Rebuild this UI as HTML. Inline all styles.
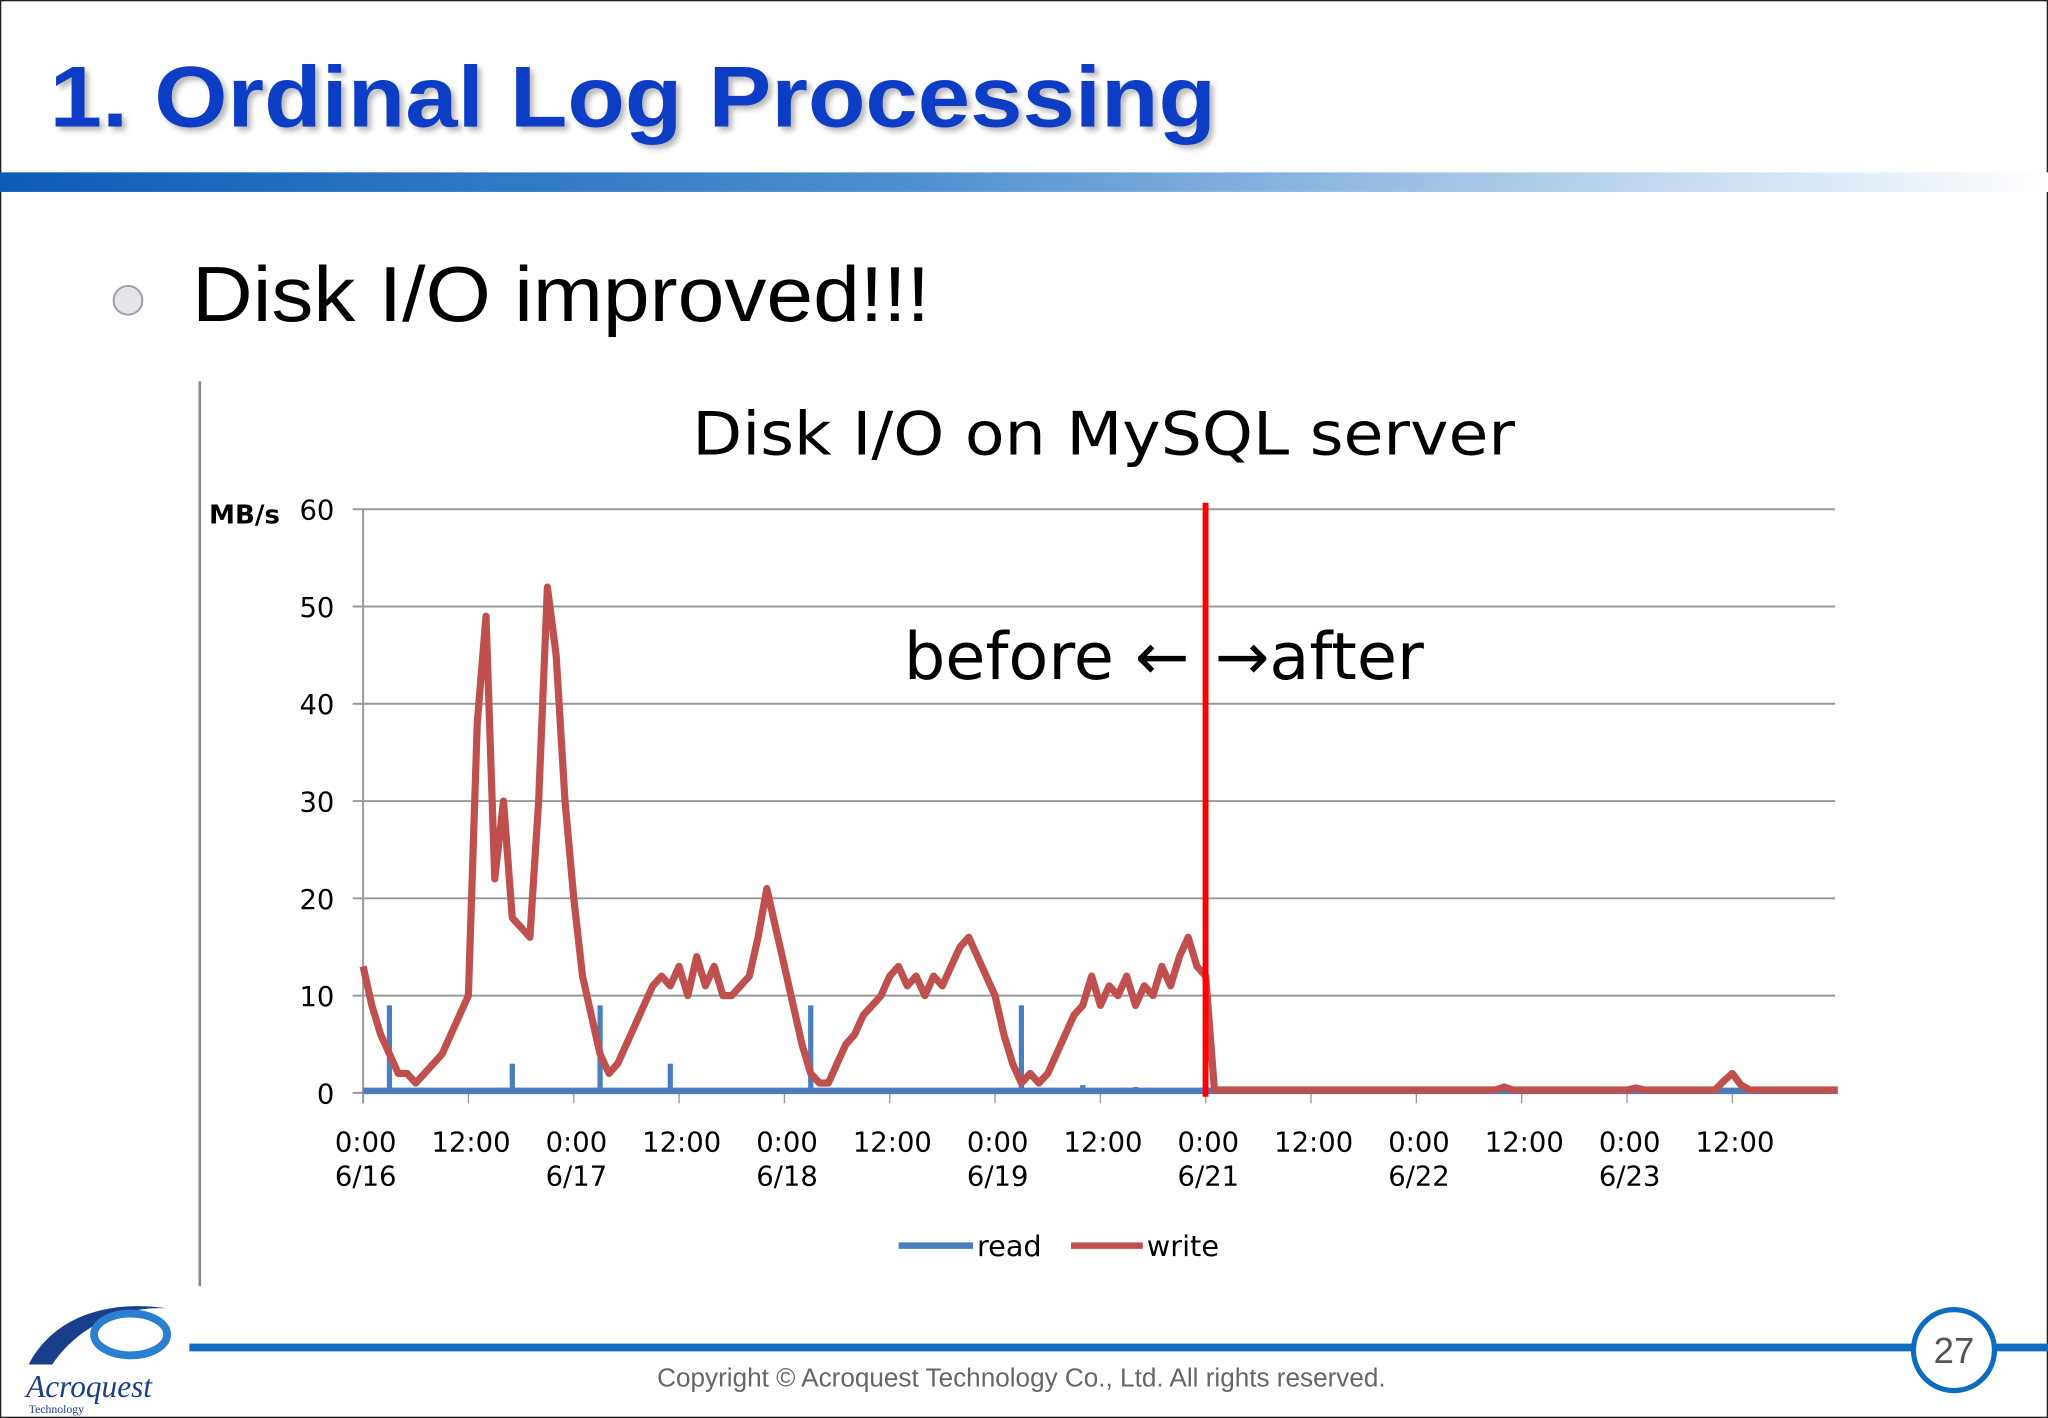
<!DOCTYPE html>
<html><head><meta charset="utf-8"><style>
html,body{margin:0;padding:0;background:#fff;}
svg{display:block;}
text{font-family:"DejaVu Sans","Liberation Sans",sans-serif;}
</style></head><body>
<svg width="2048" height="1418" viewBox="0 0 1568 1086" preserveAspectRatio="none" xmlns="http://www.w3.org/2000/svg">
<defs>
<linearGradient id="hdr" x1="0" x2="1" y1="0" y2="0">
<stop offset="0" stop-color="#0d5cb8"/><stop offset="0.45" stop-color="#4f90d0"/><stop offset="1" stop-color="#ffffff"/>
</linearGradient>
<filter id="sh" x="-5%" y="-5%" width="110%" height="120%"><feDropShadow dx="3" dy="3" stdDeviation="2" flood-color="#888" flood-opacity="0.6"/></filter>
</defs>
<rect x="0.5" y="0.5" width="1567" height="1085" fill="#fff" stroke="#222" stroke-width="1"/>
<text x="38" y="97" font-weight="bold" font-size="66" fill="#0a3ec4" filter="url(#sh)" textLength="893" lengthAdjust="spacingAndGlyphs" style="font-family:'Liberation Sans',sans-serif">1. Ordinal Log Processing</text>
<rect x="0" y="132" width="1568" height="15" fill="url(#hdr)"/>
<circle cx="98" cy="230" r="11" fill="#e4e6ec" stroke="#9aa0aa" stroke-width="1.5"/>
<text x="147" y="246" font-size="60" fill="#000" textLength="565" lengthAdjust="spacingAndGlyphs" style="font-family:'Liberation Sans',sans-serif">Disk I/O improved!!!</text>
<line x1="153" y1="292" x2="153" y2="985" stroke="#888" stroke-width="2"/>
<text x="530" y="348" font-size="46" fill="#000" textLength="630" lengthAdjust="spacingAndGlyphs">Disk I/O on MySQL server</text>
<text x="160" y="401" font-size="20" font-weight="bold" fill="#000">MB/s</text>
<g id="grid"></g>
<g id="xlabels"></g>
<g id="series"></g>
<line x1="923" y1="385" x2="923" y2="840" stroke="#ff0000" stroke-width="4.5"/>
<text x="692" y="520" font-size="50" fill="#000">before ←</text>
<text x="930" y="520" font-size="50" fill="#000">→after</text>
<g>
<line x1="688" y1="954" x2="745" y2="954" stroke="#4a7ebf" stroke-width="5"/>
<text x="748" y="962" font-size="22">read</text>
<line x1="820" y1="954" x2="875" y2="954" stroke="#c0504d" stroke-width="5"/>
<text x="878" y="962" font-size="22">write</text>
</g>
<g>
<path d="M22 1045 C40 1010 80 995 128 1002 C95 1000 60 1015 40 1045 Z" fill="#1a3f8a"/>
<ellipse cx="100" cy="1022" rx="28" ry="16" fill="none" stroke="#2a7fd0" stroke-width="6"/>
<text x="20" y="1070" font-size="24" font-style="italic" fill="#1a3f8a" style="font-family:'Liberation Serif',serif">Acroquest</text>
<text x="22" y="1082" font-size="9" fill="#1a3f8a" style="font-family:'Liberation Serif',serif">Technology</text>
</g>
<line x1="145" y1="1032" x2="1568" y2="1032" stroke="#0e6cc0" stroke-width="6"/>
<circle cx="1496" cy="1034" r="31" fill="#fff" stroke="#0e6cc0" stroke-width="4"/>
<text x="1496" y="1044" font-size="28" text-anchor="middle" fill="#555" style="font-family:'Liberation Sans',sans-serif">27</text>
<text x="782" y="1062" font-size="20" text-anchor="middle" fill="#666" style="font-family:'Liberation Sans',sans-serif">Copyright © Acroquest Technology Co., Ltd. All rights reserved.</text>
</svg>
<script>
const yTicks=[0,10,20,30,40,50,60];
const xTickLabels=[["0:00","6/16"],["12:00",""],["0:00","6/17"],["12:00",""],["0:00","6/18"],["12:00",""],["0:00","6/19"],["12:00",""],["0:00","6/21"],["12:00",""],["0:00","6/22"],["12:00",""],["0:00","6/23"],["12:00",""]];
const writeBefore=[13,9,6,4,2,2,1,2,3,4,6,8,10,38,49,22,30,18,17,16,30,52,45,30,20,12,8,4,2,3,5,7,9,11,12,11,13,10,14,11,13,10,10,11,12,16,21,17,13,9,5,2,1,1,3,5,6,8,9,10,12,13,11,12,10,12,11,13,15,16,14,12,10,6,3,1,2,1,2,4,6,8,9,12,9,11,10,12,9,11,10,13,11,14,16,13,12];
const writeAfterBase=0.3;
const writeAfterBumps=[[130,0.6],[145,0.5],[155,1.2],[156,2],[157,0.8]];
const readSpikes=[[3,9],[17,3],[27,9],[35,3],[51,9],[75,9],[82,0.8],[88,0.6]];
const readBase=0.2;
const NS="http://www.w3.org/2000/svg";
const X0=278,XPH=6.72,Y0=837,YPU=(837-390)/60;
const xs=h=>X0+h*XPH, ys=v=>Y0-v*YPU;
const grid=document.getElementById('grid');
yTicks.forEach(t=>{
 const l=document.createElementNS(NS,'line');
 
 
 l.setAttribute('x1',270);l.setAttribute('x2',1405);l.setAttribute('y1',ys(t));l.setAttribute('y2',ys(t));
 l.setAttribute('stroke','#999');l.setAttribute('stroke-width','1.5');grid.appendChild(l);
 const tx=document.createElementNS(NS,'text');
 
 
 tx.setAttribute('x',256);tx.setAttribute('y',ys(t)+8);tx.setAttribute('text-anchor','end');tx.setAttribute('font-size','21');
 tx.textContent=t;grid.appendChild(tx);
});
const ax=document.createElementNS(NS,'line');


ax.setAttribute('x1',X0);ax.setAttribute('x2',X0);ax.setAttribute('y1',390);ax.setAttribute('y2',845);ax.setAttribute('stroke','#999');ax.setAttribute('stroke-width','1.5');grid.appendChild(ax);
const xl=document.getElementById('xlabels');
xTickLabels.forEach((lb,i)=>{
 const x=xs(i*12);
 const tk=document.createElementNS(NS,'line');
 
 
 tk.setAttribute('x1',x);tk.setAttribute('x2',x);tk.setAttribute('y1',837);tk.setAttribute('y2',845);tk.setAttribute('stroke','#999');xl.appendChild(tk);
 lb.forEach((s,j)=>{ if(!s)return;
  const t=document.createElementNS(NS,'text');
  
  
  t.setAttribute('x',x+2);t.setAttribute('y',882+j*26);t.setAttribute('text-anchor','middle');t.setAttribute('font-size','21');
  t.textContent=s;xl.appendChild(t);});
});
const N=168;
const write=[],read=[];
for(let h=0;h<=N;h++){
 if(h<writeBefore.length) write.push(writeBefore[h]); else write.push(writeAfterBase);
 read.push(readBase);
}
writeAfterBumps.forEach(([h,v])=>write[h]=v);
const sg=document.getElementById('series');
function poly(arr,color,name,w){
 let d='';arr.forEach((v,h)=>{d+=(h?'L':'M')+xs(h).toFixed(1)+' '+ys(v).toFixed(1);});
 const p=document.createElementNS(NS,'path');
 
 
 p.setAttribute('d',d);p.setAttribute('fill','none');p.setAttribute('stroke',color);p.setAttribute('stroke-width',w);p.setAttribute('stroke-linejoin','round');
 sg.appendChild(p);
}
poly(read,'#4a7ebf','read-line',5);
readSpikes.forEach(([h,v])=>{
 const l=document.createElementNS(NS,'line');
 
 
 l.setAttribute('x1',xs(h));l.setAttribute('x2',xs(h));l.setAttribute('y1',ys(readBase));l.setAttribute('y2',ys(v));
 l.setAttribute('stroke','#4a7ebf');l.setAttribute('stroke-width','4');sg.appendChild(l);
});
poly(write,'#c0504d','write-line',5.5);
</script>
</body></html>
